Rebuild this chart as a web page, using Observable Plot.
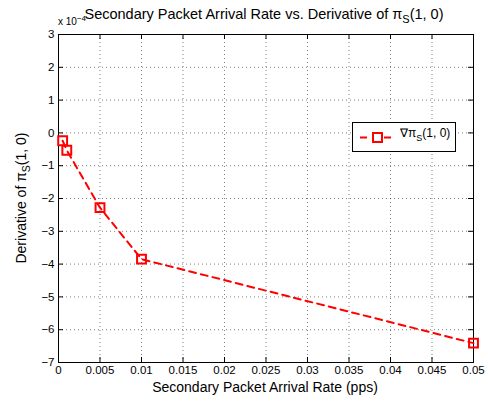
<!DOCTYPE html>
<html><head><meta charset="utf-8">
<script src="https://cdn.jsdelivr.net/npm/d3@7"></script>
<script src="https://cdn.jsdelivr.net/npm/@observablehq/plot@0.6"></script>
<style>body{margin:0;background:#fff}</style>
</head><body><div id="chart"></div>
<script>
const rates = [0.0005, 0.001, 0.005, 0.01, 0.05];
const derivs = [-0.24, -0.53, -2.28, -3.85, -6.41]; // x 10^-4
const xTicks = [0, 0.005, 0.01, 0.015, 0.02, 0.025, 0.03, 0.035, 0.04, 0.045, 0.05];
const xTickLabels = ["0","0.005","0.01","0.015","0.02","0.025","0.03","0.035","0.04","0.045","0.05"];
const yTicks = [-7, -6, -5, -4, -3, -2, -1, 0, 1, 2, 3];

const data = rates.map((r, i) => ({x: r, y: derivs[i]}));
const font = "'Liberation Sans', Arial, sans-serif";
const tl = 5, xs = 0.05 / 415 * tl, ys = 10 / 328 * tl;

const plot = Plot.plot({
  width: 488, height: 401,
  marginLeft: 58, marginRight: 15, marginTop: 34, marginBottom: 39,
  style: {fontFamily: font, fontSize: "11.5px", color: "#000", background: "#fff"},
  x: {domain: [0, 0.05], ticks: xTicks, tickFormat: (d, i) => xTickLabels[i], label: null},
  y: {domain: [-7, 3], ticks: yTicks, label: null},
  marks: [
    Plot.gridX(xTicks, {stroke: "#000", strokeOpacity: 0.5, strokeDasharray: "1,3"}),
    Plot.gridY(yTicks, {stroke: "#000", strokeOpacity: 0.5, strokeDasharray: "1,3"}),
    Plot.axisX(xTicks, {tickSize: 0, tickPadding: 3, tickFormat: (d) => xTickLabels[xTicks.indexOf(d)], fontSize: 11.5}),
    Plot.axisY(yTicks, {tickSize: 0, tickPadding: 4, tickFormat: d => d < 0 ? "\u2212" + Math.abs(d) : String(d), fontSize: 11.5}),
    Plot.ruleX(xTicks, {y1: -7, y2: -7 + ys, stroke: "#000"}),
    Plot.ruleX(xTicks, {y1: 3, y2: 3 - ys, stroke: "#000"}),
    Plot.ruleY(yTicks, {x1: 0, x2: xs, stroke: "#000"}),
    Plot.ruleY(yTicks, {x1: 0.05, x2: 0.05 - xs, stroke: "#000"}),
    Plot.frame({stroke: "#000", strokeWidth: 1}),
    Plot.line(data, {x: "x", y: "y", stroke: "#ff0000", strokeWidth: 2, strokeDasharray: "7,5"}),
    Plot.dot(data, {x: "x", y: "y", symbol: "square", r: 5, stroke: "#ff0000", strokeWidth: 2, fill: "none"})
  ]
});
document.getElementById("chart").appendChild(plot);

const svg = d3.select(plot);
// Title
const title = svg.append("text").attr("x", 264).attr("y", 19).attr("text-anchor", "middle")
  .style("font-family", font).style("font-size", "14.5px").attr("fill", "#000");
title.append("tspan").text("Secondary Packet Arrival Rate vs. Derivative of \u03c0");
title.append("tspan").attr("dy", 4).style("font-size", "11px").text("S");
title.append("tspan").attr("dy", -4).text("(1, 0)");
// exponent
const ex = svg.append("text").attr("x", 58).attr("y", 25).attr("text-anchor", "start")
  .style("font-family", font).style("font-size", "10px");
ex.append("tspan").text("x 10");
ex.append("tspan").attr("dy", -4).style("font-size", "8px").text("\u22124");
// x label
svg.append("text").attr("x", 265).attr("y", 392).attr("text-anchor", "middle")
  .style("font-family", font).style("font-size", "14px").text("Secondary Packet Arrival Rate (pps)");
// y label
const yl = svg.append("text").attr("transform", "translate(26,198) rotate(-90)").attr("text-anchor", "middle")
  .style("font-family", font).style("font-size", "14px");
yl.append("tspan").text("Derivative of \u03c0");
yl.append("tspan").attr("dy", 4).style("font-size", "10.5px").text("S");
yl.append("tspan").attr("dy", -4).text("(1, 0)");
// legend
const lg = svg.append("g");
lg.append("rect").attr("x", 352.5).attr("y", 122.5).attr("width", 103).attr("height", 29)
  .attr("fill", "#fff").attr("stroke", "#000").attr("stroke-width", 1);
lg.append("line").attr("x1", 360).attr("x2", 396).attr("y1", 137.5).attr("y2", 137.5)
  .attr("stroke", "#ff0000").attr("stroke-width", 2).attr("stroke-dasharray", "7,5");
lg.append("rect").attr("x", 373).attr("y", 133).attr("width", 9).attr("height", 9)
  .attr("fill", "#fff").attr("stroke", "#ff0000").attr("stroke-width", 2);
const lt = lg.append("text").attr("x", 400).attr("y", 137).attr("text-anchor", "start")
  .style("font-family", font).style("font-size", "12px");
lt.append("tspan").text("\u2207\u03c0");
lt.append("tspan").attr("dy", 4).style("font-size", "9px").text("S");
lt.append("tspan").attr("dy", -4).text("(1, 0)");
</script>
</body></html>
